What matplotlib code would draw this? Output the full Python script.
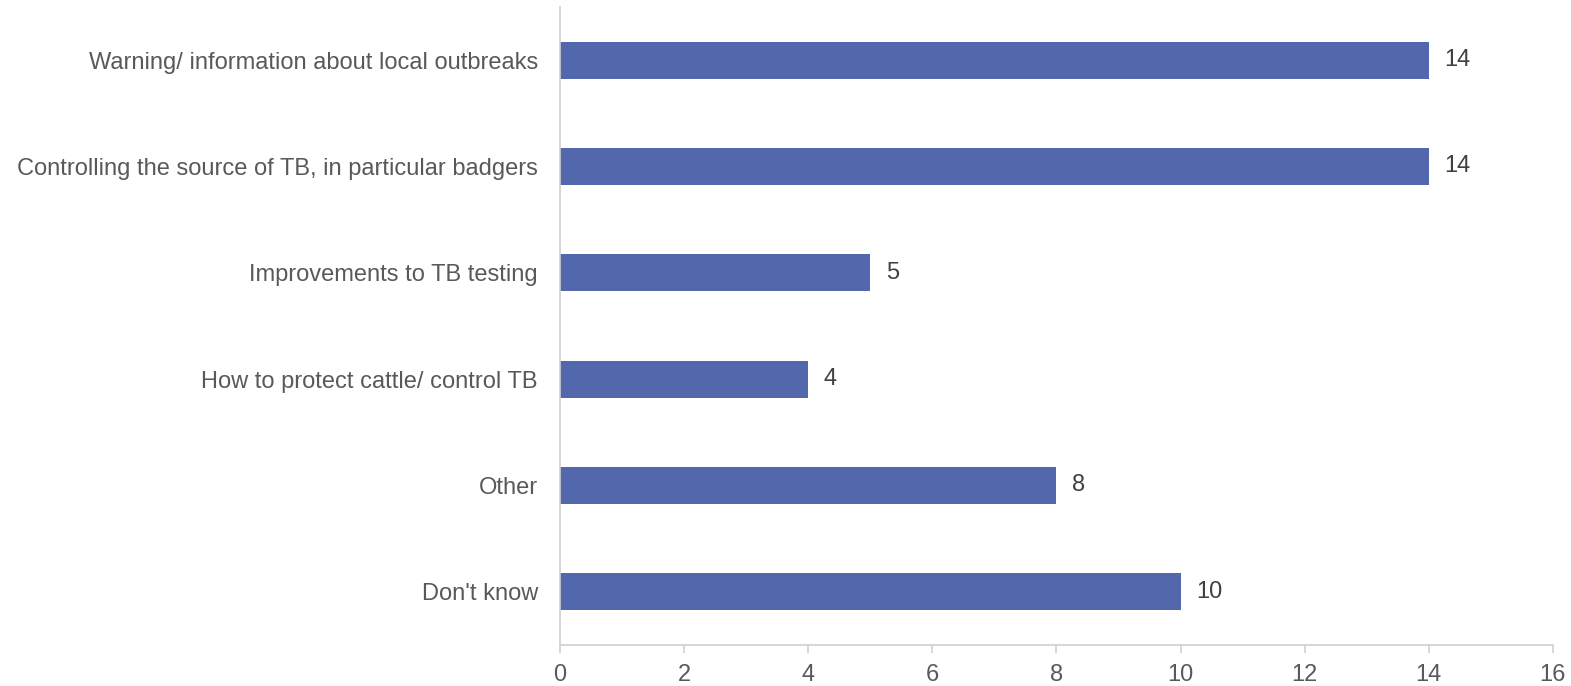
import matplotlib
matplotlib.use('Agg')
import matplotlib.pyplot as plt
import numpy as np

categories = [
    "Warning/ information about local outbreaks",
    "Controlling the source of TB, in particular badgers",
    "Improvements to TB testing",
    "How to protect cattle/ control TB",
    "Other",
    "Don't know",
]
values = [14, 14, 5, 4, 8, 10]
xticks = [0, 2, 4, 6, 8, 10, 12, 14, 16]

plt.rcParams['font.family'] = ['Liberation Sans', 'DejaVu Sans']

fig = plt.figure(figsize=(15.71, 6.86), dpi=100)
ax = fig.add_axes([0.3565, 0.0598, 0.632, 0.930])

y = np.arange(len(categories))
ax.barh(y, values, height=0.35, color='#5267AC')

for yi, v in zip(y, values):
    ax.text(v + 0.25, yi, str(v), va='center', ha='left', fontsize=17, color='#404040')

ax.set_ylim(len(categories) - 0.5, -0.5)
ax.set_xlim(0, 16)
ax.set_yticks(y)
ax.set_yticklabels(categories, fontsize=17, color='#595959')
ax.set_xticks(xticks)
ax.set_xticklabels([str(t) for t in xticks], fontsize=17, color='#595959')

for s in ['top', 'right']:
    ax.spines[s].set_visible(False)
for s in ['left', 'bottom']:
    ax.spines[s].set_color('#D0D0D0')
    ax.spines[s].set_linewidth(1.2)
ax.tick_params(axis='y', length=0, pad=16)
ax.tick_params(axis='x', length=6, color='#D0D0D0', width=1.2, pad=8)

fig.savefig('out.png', dpi=100)
